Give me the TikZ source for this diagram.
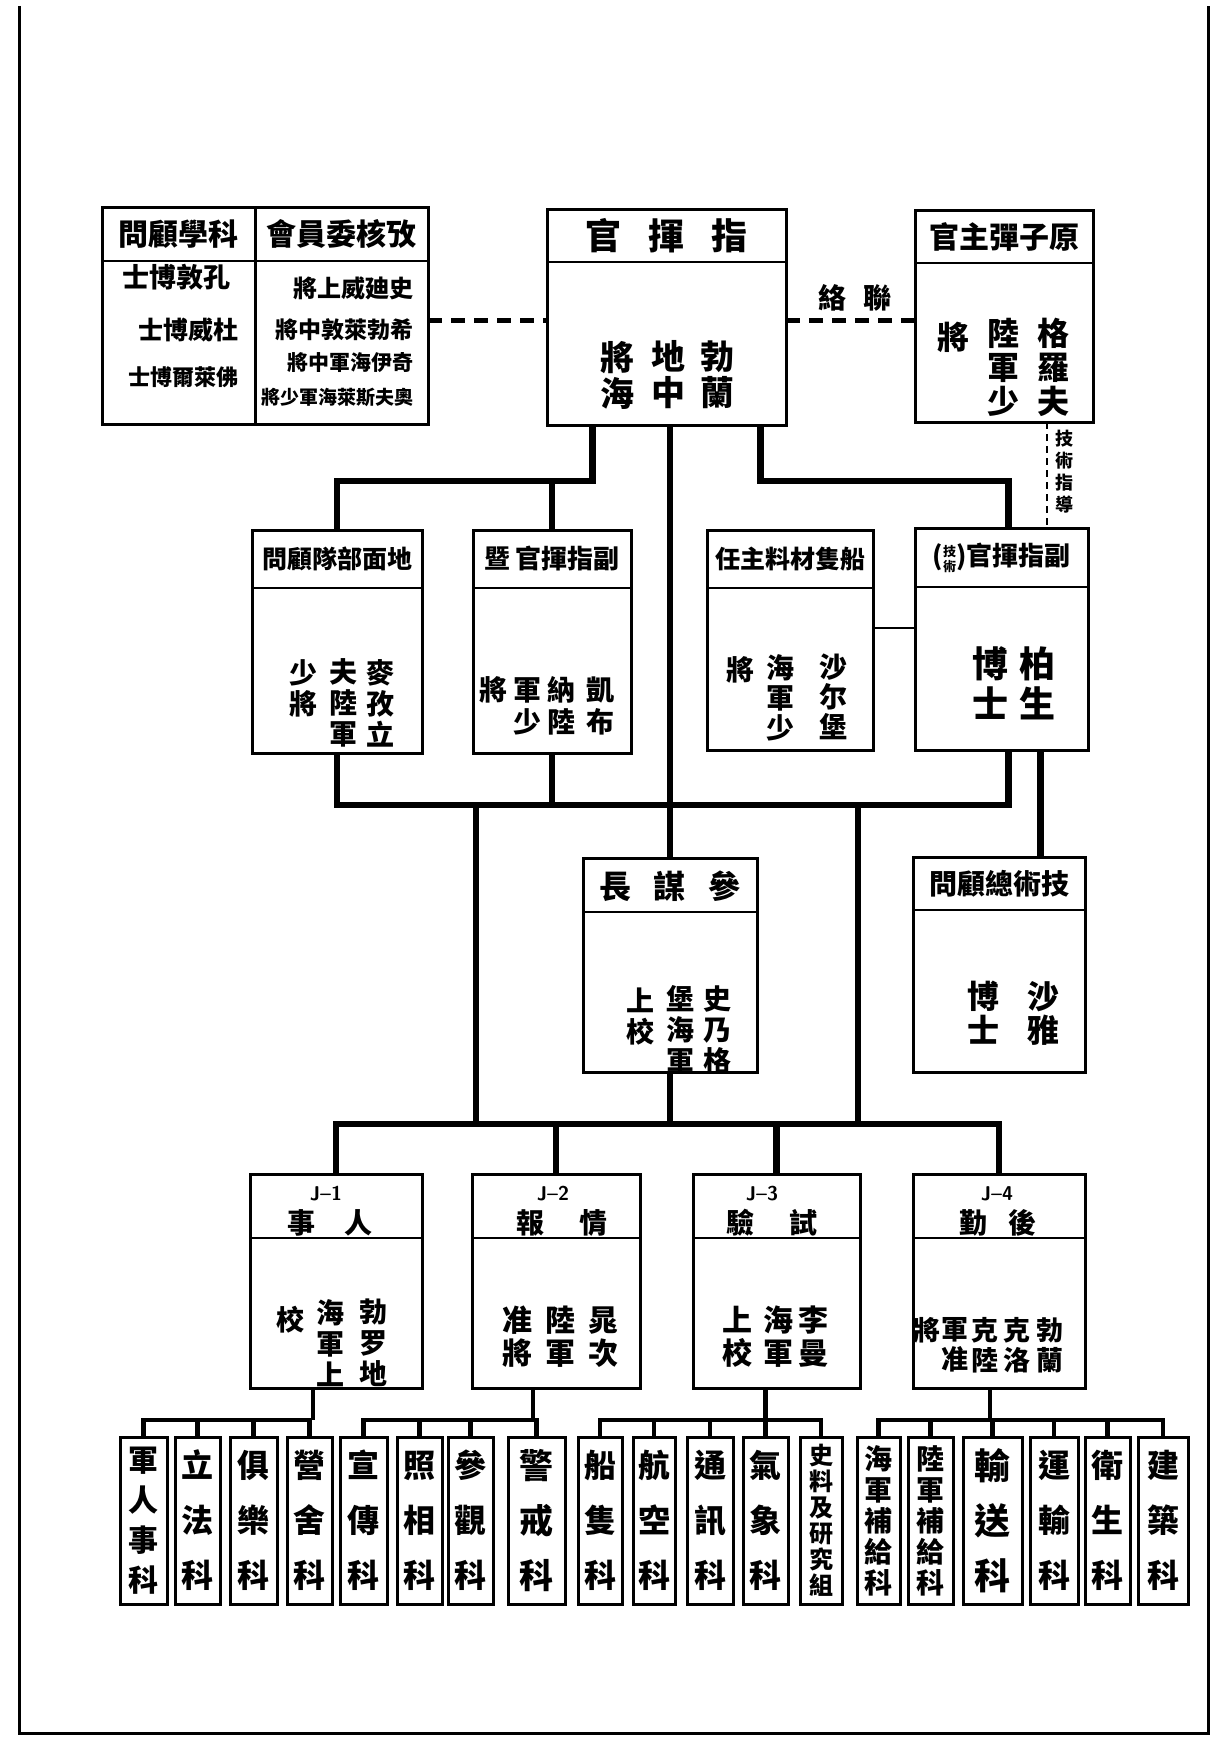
\documentclass[tikz,border=0pt]{standalone}
\usepackage{fontspec}
\newfontfamily\cjkreg{Noto Sans CJK TC}
\newcommand\cjk{\cjkreg\bfseries}
\usetikzlibrary{calc}
\newcommand\fs[2]{\fontsize{#1}{#2}\selectfont}
\newcommand\orgbox[6]{%
  \node[box, minimum width=#4pt, minimum height=#5pt] (#1) at (#2,#3) {};
  \draw[hline] ([yshift=-#6pt]#1.north west) -- ([yshift=-#6pt]#1.north east);}
\newcommand\leaf[5]{%
  \node[box, minimum width=#3pt, minimum height=167pt] (#1) at (#2,1437) {};
  \node[txt, font={\cjk#4}] (#1t) at (#1.center) {#5};}
\begin{document}
\begin{tikzpicture}[x=1pt,y=-1pt,
  box/.style={draw, line width=3pt, inner sep=0pt, outer sep=0pt, anchor=north west},
  hline/.style={line width=2.5pt},
  conn/.style={line width=6.5pt},
  busline/.style={line width=6.5pt, line cap=rect},
  leafconn/.style={line width=4.5pt},
  leafbus/.style={line width=4.5pt, line cap=rect},
  dconn/.style={line width=5pt, dash pattern=on 14pt off 9pt},
  tconn/.style={line width=2.5pt, dash pattern=on 7pt off 5pt},
  txt/.style={inner sep=0pt, align=center, font=\cjk},
  jlab/.style={inner sep=0pt, font={\sffamily\bfseries\fs{20}{20}}},
]
\useasboundingbox (0,0) rectangle (1220,1745);
\fill[white] (0,0) rectangle (1220,1745);
% frame
\draw[line width=3pt] (19,6) -- (19,1733) -- (1208,1733) -- (1208,6);

% ---------- top row ----------
\orgbox{sci}{102}{207}{153}{217}{54}
\orgbox{rev}{255}{207}{173}{217}{54}
\node[txt, font={\cjk\fs{30}{30}}] (scih) at ([yshift=-27pt]sci.north) {問顧學科};
\node[txt, font={\cjk\fs{30}{30}}] (revh) at ([yshift=-27pt]rev.north) {會員委核攷};
\node[txt, font={\cjk\fs{27}{27}}] (sci1) at (176,277) {士博敦孔};
\node[txt, font={\cjk\fs{25}{25}}] (sci2) at (188,330) {士博威杜};
\node[txt, font={\cjk\fs{22}{22}}] (sci3) at (183,377) {士博爾萊佛};
\node[txt, anchor=east, font={\cjk\fs{24}{24}}] (rev1) at (414,288) {將上威廸史};
\node[txt, anchor=east, font={\cjk\fs{23}{23}}] (rev2) at (414,330) {將中敦萊勃希};
\node[txt, anchor=east, font={\cjk\fs{21}{21}}] (rev3) at (414,363) {將中軍海伊奇};
\node[txt, anchor=east, font={\cjk\fs{19}{19}}] (rev4) at (414,397) {將少軍海萊斯夫奧};

\orgbox{cmd}{547}{209}{239}{216}{53}
\node[txt, font={\cjk\fs{36}{36}}] (cmdh) at ([yshift=-27pt]cmd.north) {官\hspace{27pt}揮\hspace{27pt}指};
\node[txt, font={\cjk\fs{34}{36}}] (cmd1) at (717,375) {勃\\蘭};
\node[txt, font={\cjk\fs{34}{36}}] (cmd2) at (668,375) {地\\中};
\node[txt, font={\cjk\fs{34}{36}}] (cmd3) at (617,375) {將\\海};

\orgbox{atom}{915}{210}{178}{212}{53}
\node[txt, font={\cjk\fs{30}{30}}] (atomh) at ([yshift=-27pt]atom.north) {官主彈子原};
\node[txt, font={\cjk\fs{32}{34}}] (atom1) at (1053,367) {格\\羅\\夫};
\node[txt, font={\cjk\fs{32}{34}}] (atom2) at (1003,367) {陸\\軍\\少};
\node[txt, font={\cjk\fs{32}{34}}] (atom3) at (953,337) {將};

% dashed links
\coordinate (dl) at ([yshift=-5pt]rev.east);
\draw[dconn] (dl) -- (dl -| cmd.west);
\coordinate (dr) at ([yshift=-3pt]cmd.east);
\draw[dconn] (dr) -- (dr -| atom.west);
\node[txt, font={\cjk\fs{28}{28}}] (liaison) at (855,298) {絡\hspace{18pt}聯};

% ---------- second row ----------
\orgbox{gadv}{252}{530}{170}{223}{58}
\node[txt, font={\cjk\fs{25}{25}}] (gadvh) at ([yshift=-29pt]gadv.north) {問顧隊部面地};
\node[txt, font={\cjk\fs{28}{31}}] (gadv1) at (380,703) {麥\\孜\\立};
\node[txt, font={\cjk\fs{28}{31}}] (gadv2) at (343,703) {夫\\陸\\軍};
\node[txt, font={\cjk\fs{28}{31}}] (gadv3) at (303,688) {少\\將};

\orgbox{dep1}{473}{530}{158}{223}{58}
\node[txt, font={\cjk\fs{26}{26}}] (dep1h) at ([yshift=-29pt]dep1.north) {暨\hspace{6pt}官揮指副};
\node[txt, font={\cjk\fs{28}{32}}] (dep11) at (600,706) {凱\\布};
\node[txt, font={\cjk\fs{28}{32}}] (dep12) at (561,706) {納\\陸};
\node[txt, font={\cjk\fs{28}{32}}] (dep13) at (527,706) {軍\\少};
\node[txt, font={\cjk\fs{28}{32}}] (dep14) at (493,690) {將};

\orgbox{ship}{707}{530}{166}{220}{58}
\node[txt, font={\cjk\fs{25}{25}}] (shiph) at ([yshift=-29pt]ship.north) {任主料材隻船};
\node[txt, font={\cjk\fs{28}{30}}] (ship1) at (833,697) {沙\\尔\\堡};
\node[txt, font={\cjk\fs{28}{30}}] (ship2) at (780,698) {海\\軍\\少};
\node[txt, font={\cjk\fs{28}{30}}] (ship3) at (740,670) {將};

\orgbox{dep2}{915}{528}{173}{222}{59}
\node[txt, font={\cjk\fs{26}{26}}] (dep2h) at ([yshift=-30pt]dep2.north) {(\raisebox{-6pt}{\fs{13}{16}\shortstack{技\\術}})官揮指副};
\node[txt, font={\cjk\fs{36}{40}}] (dep21) at (1037,683) {柏\\生};
\node[txt, font={\cjk\fs{36}{40}}] (dep22) at (990,683) {博\\士};

\coordinate (sl) at ([yshift=-98pt]ship.north east);
\draw[line width=2.5pt] (sl) -- (sl -| dep2.west);

% technical guidance (dashed)
\coordinate (tg) at ([xshift=43pt]atom.south);
\draw[tconn] (tg) -- (tg |- dep2.north);
\node[txt, font={\cjk\fs{18}{22}}] (tech) at (1064,472) {技\\術\\指\\導};

% ---------- middle row ----------
\orgbox{chief}{583}{858}{174}{214}{54}
\node[txt, font={\cjk\fs{32}{32}}] (chiefh) at ([yshift=-28pt]chief.north) {長\hspace{23pt}謀\hspace{23pt}參};
\node[txt, font={\cjk\fs{28}{31}}] (chief1) at (717,1030) {史\\乃\\格};
\node[txt, font={\cjk\fs{28}{31}}] (chief2) at (680,1030) {堡\\海\\軍};
\node[txt, font={\cjk\fs{28}{31}}] (chief3) at (640,1017) {上\\校};

\orgbox{tadv}{913}{857}{172}{215}{53}
\node[txt, font={\cjk\fs{28}{28}}] (tadvh) at ([yshift=-27pt]tadv.north) {問顧總術技};
\node[txt, font={\cjk\fs{32}{34}}] (tadv1) at (1043,1013) {沙\\雅};
\node[txt, font={\cjk\fs{32}{34}}] (tadv2) at (983,1013) {博\\士};

% ---------- J row ----------
\orgbox{J1}{250}{1174}{172}{214}{64}
\orgbox{J2}{472}{1174}{168}{214}{64}
\orgbox{J3}{693}{1174}{167}{214}{64}
\orgbox{J4}{913}{1174}{172}{214}{64}
\node[jlab] (J1n) at (326,1194) {J--1};
\node[jlab] (J2n) at (553,1194) {J--2};
\node[jlab] (J3n) at (762,1194) {J--3};
\node[jlab] (J4n) at (997,1194) {J--4};
\node[txt, font={\cjk\fs{28}{28}}] (J1h) at (330,1223) {事\hspace{30pt}人};
\node[txt, font={\cjk\fs{28}{28}}] (J2h) at (562,1223) {報\hspace{35pt}情};
\node[txt, font={\cjk\fs{28}{28}}] (J3h) at (772,1223) {驗\hspace{35pt}試};
\node[txt, font={\cjk\fs{28}{28}}] (J4h) at (998,1223) {勤\hspace{22pt}後};

\node[txt, font={\cjk\fs{28}{31}}] (J1a) at (373,1343) {勃\\罗\\地};
\node[txt, font={\cjk\fs{28}{31}}] (J1b) at (330,1343) {海\\軍\\上};
\node[txt, font={\cjk\fs{28}{31}}] (J1c) at (290,1320) {校};

\node[txt, font={\cjk\fs{30}{33}}] (J2a) at (603,1337) {晁\\次};
\node[txt, font={\cjk\fs{30}{33}}] (J2b) at (560,1337) {陸\\軍};
\node[txt, font={\cjk\fs{30}{33}}] (J2c) at (517,1337) {准\\將};

\node[txt, font={\cjk\fs{30}{33}}] (J3a) at (813,1337) {李\\曼};
\node[txt, font={\cjk\fs{30}{33}}] (J3b) at (778,1337) {海\\軍};
\node[txt, font={\cjk\fs{30}{33}}] (J3c) at (737,1337) {上\\校};

\node[txt, font={\cjk\fs{27}{30}}] (J4a) at (1050,1345) {勃\\蘭};
\node[txt, font={\cjk\fs{27}{30}}] (J4b) at (1017,1345) {克\\洛};
\node[txt, font={\cjk\fs{27}{30}}] (J4c) at (985,1345) {克\\陸};
\node[txt, font={\cjk\fs{27}{30}}] (J4d) at (955,1345) {軍\\准};
\node[txt, font={\cjk\fs{27}{30}}] (J4e) at (927,1330) {將};

% ---------- leaves ----------
\leaf{L1}{120}{47}{\fs{30}{40}}{軍\\人\\事\\科}
\leaf{L2}{175}{45}{\fs{32}{55}}{立\\法\\科}
\leaf{L3}{230}{47}{\fs{32}{55}}{俱\\樂\\科}
\leaf{L4}{287}{45}{\fs{32}{55}}{營\\舍\\科}
\leaf{L5}{340}{47}{\fs{32}{55}}{宣\\傳\\科}
\leaf{L6}{397}{45}{\fs{32}{55}}{照\\相\\科}
\leaf{L7}{448}{45}{\fs{32}{55}}{參\\觀\\科}
\leaf{L8}{508}{57}{\fs{34}{55}}{警\\戒\\科}
\leaf{L9}{578}{44}{\fs{32}{55}}{船\\隻\\科}
\leaf{L10}{633}{42}{\fs{32}{55}}{航\\空\\科}
\leaf{L11}{687}{46}{\fs{32}{55}}{通\\訊\\科}
\leaf{L12}{743}{45}{\fs{32}{55}}{氣\\象\\科}
\leaf{L13}{800}{42}{\fs{24}{26}}{史\\料\\及\\研\\究\\組}
\leaf{L14}{857}{43}{\fs{28}{31}}{海\\軍\\補\\給\\科}
\leaf{L15}{908}{45}{\fs{28}{31}}{陸\\軍\\補\\給\\科}
\leaf{L16}{963}{59}{\fs{36}{55}}{輸\\送\\科}
\leaf{L17}{1030}{48}{\fs{32}{55}}{運\\輸\\科}
\leaf{L18}{1085}{45}{\fs{32}{55}}{衛\\生\\科}
\leaf{L19}{1138}{50}{\fs{32}{55}}{建\\築\\科}

% ---------- connectors ----------
\coordinate (bA) at (0,481);
\coordinate (bB) at (0,805);
\coordinate (bC) at (0,1124);
\coordinate (bD) at (0,1420);

\coordinate (ca) at ([xshift=-74pt]cmd.south);
\coordinate (cb) at ([xshift=94pt]cmd.south);
\draw[conn] (ca) -- (ca |- bA) -| (gadv.north);
\draw[conn] (dep1.north |- bA) -- (dep1.north);
\draw[conn] (cb) -- (cb |- bA) -| ([xshift=7pt]dep2.north);
\draw[conn] (cmd.south -| chief.north) -- (chief.north);

\coordinate (d2a) at ([xshift=7pt]dep2.south);
\coordinate (d2b) at ([xshift=39pt]dep2.south);
\draw[busline] (gadv.south |- bB) -- (d2a |- bB);
\draw[conn] (gadv.south) -- (gadv.south |- bB);
\draw[conn] (dep1.south) -- (dep1.south |- bB);
\draw[conn] (d2a) -- (d2a |- bB);
\draw[conn] (d2b) -- (d2b |- tadv.north);

\coordinate (tapL) at (476,805);
\coordinate (tapR) at (858,805);
\draw[conn] (tapL) -- (tapL |- bC);
\draw[conn] (tapR) -- (tapR |- bC);
\draw[conn] (chief.south) -- (chief.south |- bC);
\draw[busline] (J1.north |- bC) -- (J4.north |- bC);
\foreach \j in {J1,J2,J3,J4} \draw[conn] (\j.north |- bC) -- (\j.north);

\coordinate (j1d) at ([xshift=-23pt]J1.south);
\coordinate (j2d) at ([xshift=-23pt]J2.south);
\coordinate (j3d) at ([xshift=-11pt]J3.south);
\coordinate (j4d) at ([xshift=-9pt]J4.south);
\foreach \j in {j1d,j2d,j3d,j4d} \draw[leafconn] (\j) -- (\j |- bD);
\draw[leafbus] (L1.north |- bD) -- (L4.north |- bD);
\draw[leafbus] (L5.north |- bD) -- (L8.north |- bD);
\draw[leafbus] (L9.north |- bD) -- (L13.north |- bD);
\draw[leafbus] (L14.north |- bD) -- (L19.north |- bD);
\foreach \l in {L1,L2,L3,L4,L5,L6,L7,L8,L9,L10,L11,L12,L13,L14,L15,L16,L17,L18,L19}
  \draw[leafconn] (\l.north |- bD) -- (\l.north);
\end{tikzpicture}
\end{document}
